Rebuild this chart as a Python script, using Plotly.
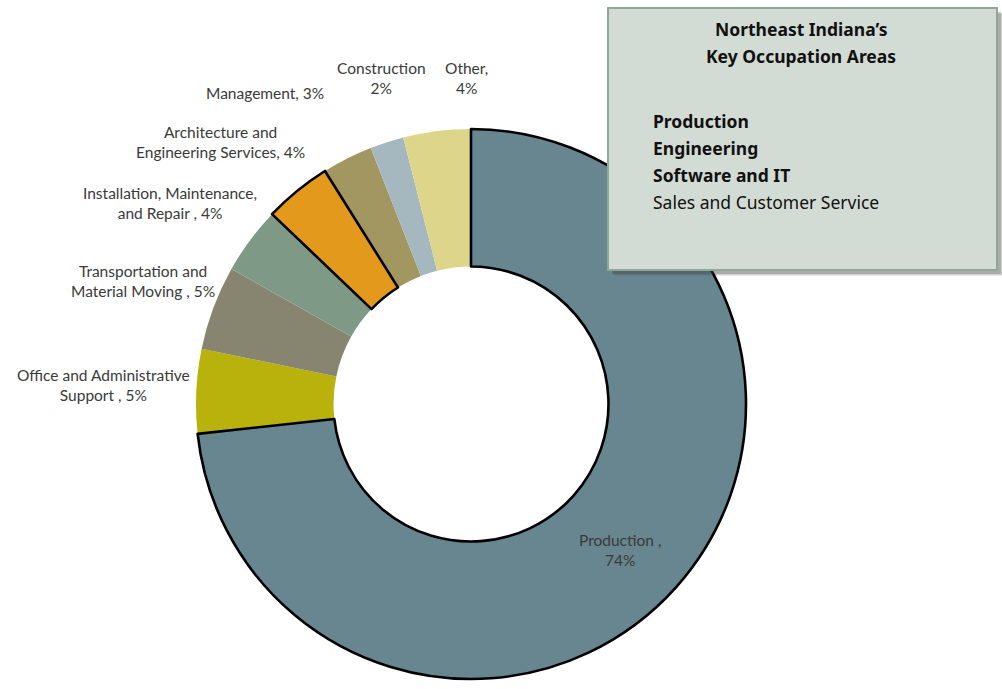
import plotly.graph_objects as go

W, H = 1002, 689

# Share of employment by occupation group (percent)
categories = [
    "Production",
    "Office and Administrative Support",
    "Transportation and Material Moving",
    "Installation, Maintenance, and Repair",
    "Architecture and Engineering Services",
    "Management",
    "Construction",
    "Other",
]
shares = [74, 5, 5, 4, 4, 3, 2, 4]

# Label wording as printed next to each slice
label_templates = [
    "Production ,<br>{v}%",
    "Office and Administrative<br>Support , {v}%",
    "Transportation and<br>Material Moving , {v}%",
    "Installation, Maintenance,<br>and Repair , {v}%",
    "Architecture and<br>Engineering Services, {v}%",
    "Management, {v}%",
    "Construction<br>{v}%",
    "Other,<br>{v}%",
]

slice_colors = ["#67868F", "#B9B10C", "#878570", "#7E9A86",
                "#E39A1C", "#A29661", "#A6B8BF", "#DDD68A"]
highlighted = [True, False, False, False, True, False, False, False]

# Side panel content
panel_title = ["Northeast Indiana\u2019s", "Key Occupation Areas"]
key_areas = ["Production", "Engineering", "Software and IT", "Sales and Customer Service"]
key_bold = [True, True, True, False]

# Label anchor points (pixels) for each slice label
label_xy = [(620, 550), (103, 385), (143, 281), (170, 203),
            (220, 142), (265, 93), (381, 78), (466, 78)]


def px(x):
    return x / W


def py(y):
    return 1 - y / H


cx, cy, r = 471, 404, 275
domain = dict(x=[px(cx - r), px(cx + r)], y=[py(cy + r), py(cy - r)])

fig = go.Figure()

fig.add_trace(go.Pie(
    labels=categories,
    values=shares,
    sort=False,
    direction="clockwise",
    rotation=0,
    hole=0.5,
    domain=domain,
    textinfo="none",
    hoverinfo="label+percent",
    marker=dict(colors=slice_colors, line=dict(width=0)),
    showlegend=False,
))

# Outline layer for the highlighted slices, drawn on top of the fills
fig.add_trace(go.Pie(
    labels=categories,
    values=shares,
    sort=False,
    direction="clockwise",
    rotation=0,
    hole=0.5,
    domain=domain,
    textinfo="none",
    hoverinfo="skip",
    marker=dict(
        colors=["rgba(0,0,0,0)"] * len(categories),
        line=dict(color="#000000", width=[2.6 if h else 0 for h in highlighted]),
    ),
    showlegend=False,
))

label_font = dict(family="Lato, Carlito, sans-serif", size=15.5, color="#3A3A3A")
for tmpl, v, (lx, ly) in zip(label_templates, shares, label_xy):
    fig.add_annotation(
        x=px(lx), y=py(ly), xref="paper", yref="paper",
        text=tmpl.format(v=v), showarrow=False,
        xanchor="center", yanchor="middle", align="center",
        font=label_font,
    )

# Panel with drop shadow
bx0, by0, bx1, by1 = 608, 8, 997, 270
shapes = []
for off, alpha in [(6, 0.10), (5, 0.15), (4, 0.25)]:
    shapes.append(dict(
        type="rect", xref="paper", yref="paper",
        x0=px(bx0 + off), x1=px(bx1 + off), y0=py(by1 + off), y1=py(by0 + off),
        fillcolor=f"rgba(60,60,60,{alpha})", line=dict(width=0), layer="above",
    ))
shapes.append(dict(
    type="rect", xref="paper", yref="paper",
    x0=px(bx0), x1=px(bx1), y0=py(by1), y1=py(by0),
    fillcolor="#D3DCD4", line=dict(color="#8FA895", width=2), layer="above",
))

panel_font = dict(family="'Noto Sans', 'Century Gothic', sans-serif", size=17.5, color="#111111")
for i, t in enumerate(panel_title):
    fig.add_annotation(
        x=px(801), y=py(29 + 27 * i), xref="paper", yref="paper",
        text=f"<b>{t}</b>", showarrow=False,
        xanchor="center", yanchor="middle", font=panel_font,
    )
for i, (t, b) in enumerate(zip(key_areas, key_bold)):
    fig.add_annotation(
        x=px(651), y=py(121 + 27 * i), xref="paper", yref="paper",
        text=f"<b>{t}</b>" if b else t, showarrow=False,
        xanchor="left", yanchor="middle", font=panel_font,
    )

fig.update_layout(
    width=W, height=H,
    margin=dict(l=0, r=0, t=0, b=0),
    paper_bgcolor="white", plot_bgcolor="white",
    shapes=shapes,
)

fig.write_html("out.html")
